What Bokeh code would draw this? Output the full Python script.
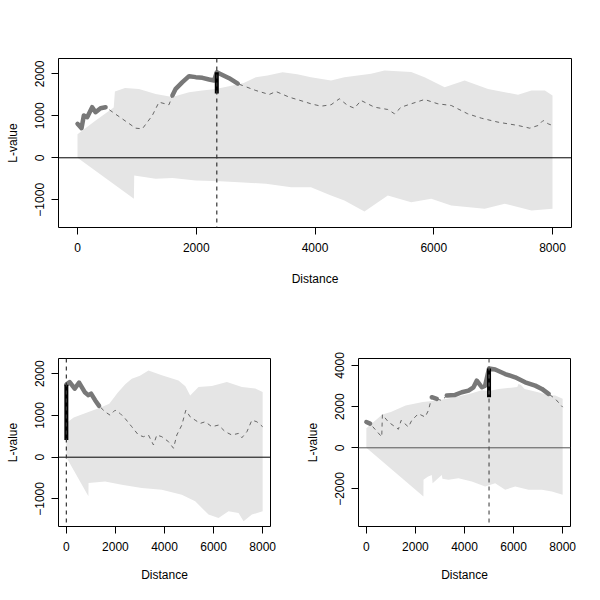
import numpy as np
from bokeh.plotting import figure
from bokeh.layouts import column, row
from bokeh.models import Range1d, FixedTicker, Span
from bokeh.embed import file_html
from bokeh.resources import INLINE

# ---------------- data ----------------
x_ticks = [0, 2000, 4000, 6000, 8000]
x_tick_labels = ["0", "2000", "4000", "6000", "8000"]
y_ticks_a = [-1000, 0, 1000, 2000]
y_tick_labels_a = ["\u22121000", "0", "1000", "2000"]
y_ticks_b = [-2000, 0, 2000, 4000]
y_tick_labels_b = ["\u22122000", "0", "2000", "4000"]

# top panel
top_up_x = [0, 300, 610, 630, 800, 1035, 1316, 1598, 1879, 2100, 2330, 2611, 2800, 3004, 3200,
            3454, 3700, 3932, 4270, 4495, 4945, 5170, 5620, 5845, 6183, 6520, 6914, 7420, 7646,
            7871, 8000]
top_up_y = [560, 880, 1200, 1580, 1660, 1640, 1520, 1445, 1562, 1600, 1640, 1720, 1780, 1920,
            1960, 2038, 1990, 1920, 1840, 1920, 2000, 2079, 2040, 1920, 1681, 1840, 1640, 1500,
            1602, 1600, 1483]
top_lo_x = [0, 950, 955, 1316, 1600, 1992, 2400, 2723, 3175, 3600, 3932, 4270, 4495, 4833,
            5226, 5620, 5958, 6295, 6858, 7196, 7646, 8000]
top_lo_y = [0, -976, -421, -500, -480, -540, -560, -580, -620, -700, -700, -897, -1016, -1280,
            -897, -1056, -976, -1135, -1214, -1095, -1254, -1214]
top_obs_x = [0, 68, 107, 163, 247, 304, 388, 473, 979, 1092, 1260, 1372, 1541, 1598, 1654, 1767,
             1879, 1992, 2104, 2217, 2301, 2346, 2554, 2700, 2779, 3004, 3229, 3342, 3567, 3848,
             3932, 4101, 4270, 4410, 4551, 4664, 4776, 5001, 5226, 5339, 5451, 5620, 5845, 6070,
             6295, 6571, 6802, 7083, 7420, 7617, 7758, 7842, 7927, 8000]
top_obs_y = [809, 705, 1007, 967, 1205, 1086, 1180, 1205, 705, 690, 1007, 1324, 1262, 1483, 1642,
             1800, 1943, 1920, 1904, 1864, 1840, 2038, 1896, 1765, 1721, 1602, 1507, 1578, 1443,
             1324, 1285, 1229, 1262, 1405, 1245, 1181, 1364, 1205, 1150, 1048, 1205, 1285, 1388,
             1285, 1245, 1048, 943, 848, 769, 705, 769, 888, 809, 769]
top_peak_x = 2346
top_bar = [1530, 2038]

# bottom-left panel
bl_up_x = [0, 300, 900, 1400, 1750, 2100, 2400, 2666, 3000, 3346, 3890, 4570, 4850, 5046,
           5386, 5930, 6542, 7154, 7698, 8000]
bl_up_y = [820, 950, 1080, 1190, 1280, 1550, 1750, 1880, 1950, 2079, 1960, 1840, 1700, 1480,
           1682, 1706, 1800, 1682, 1643, 1560]
bl_lo_x = [0, 899, 905, 1579, 2258, 3074, 3890, 4706, 5250, 5794, 6202, 6610, 7018, 7222,
           7562, 8000]
bl_lo_y = [0, -938, -619, -580, -660, -740, -780, -900, -1056, -1375, -1455, -1296, -1335,
           -1535, -1375, -1296]
bl_obs_x = [0, 136, 340, 519, 763, 899, 1008, 1171, 1334, 1579, 1783, 1987, 2190, 2394, 2666,
            2938, 3142, 3346, 3550, 3686, 3890, 4162, 4366, 4502, 4706, 4869, 5046, 5250, 5454,
            5658, 5930, 6202, 6474, 6746, 7018, 7154, 7358, 7562, 7766, 8000]
bl_obs_y = [1738, 1800, 1643, 1786, 1548, 1485, 1524, 1365, 1230, 1087, 1007, 1126, 1047, 927,
            730, 531, 491, 531, 293, 531, 491, 372, 214, 531, 769, 1126, 967, 888, 809, 848, 730,
            769, 610, 531, 570, 467, 610, 888, 848, 730]
bl_peak_x = 0
bl_bar = [412, 1738]

# bottom-right panel
br_up_x = [0, 200, 650, 1000, 1600, 2300, 2900, 3600, 4300, 4700, 5000, 5400, 5900, 6150,
           6200, 6300, 6450, 7000, 7400, 7700, 8000]
br_up_y = [950, 1150, 1620, 1740, 2050, 2220, 2300, 2450, 2650, 2800, 2760, 2850, 2920, 2950,
           3100, 3050, 2860, 2700, 2560, 2540, 2380]
br_lo_x = [0, 2326, 2330, 2500, 2666, 2700, 3074, 3100, 3346, 3754, 4298, 4842, 5250, 5658,
           6066, 6610, 7154, 7562, 8000]
br_lo_y = [0, -2361, -1557, -1400, -1316, -1717, -1316, -1500, -1557, -1477, -1637, -1878,
           -1717, -2038, -1878, -2038, -2038, -2119, -2280]
br_obs_x = [0, 151, 627, 654, 899, 1307, 1416, 1715, 1851, 2122, 2394, 2530, 2666, 2870, 3074,
            3278, 3618, 3890, 4162, 4366, 4502, 4706, 4842, 5000, 5250, 5658, 6066, 6474, 6882,
            7154, 7426, 7698, 8000]
br_obs_y = [1253, 1173, 530, 1609, 1253, 901, 1334, 1012, 1334, 1657, 1494, 1817, 2458, 2378,
            2297, 2538, 2570, 2699, 2779, 2940, 3262, 2940, 3020, 3850, 3800, 3583, 3423, 3182,
            3020, 2860, 2619, 2378, 1976]
br_peak_x = 5000
br_bar = [2460, 3850]

FONT = "Liberation Sans"
BAND = "#E5E5E5"
THICK = "#787878"
DASHC = "#666666"


def panel(width, height, left, right, top_b, ylim, yticks, ylabels, up_x, up_y, lo_x, lo_y,
          obs_x, obs_y, peak_x, bar, zero_color, vline_color, xlab_standoff):
    p = figure(width=width, height=height, output_backend="svg", toolbar_location=None,
               x_range=Range1d(-320, 8320), y_range=Range1d(*ylim),
               min_border_left=left, min_border_right=right,
               min_border_top=top_b, min_border_bottom=height - top_b - 169)
    p.grid.visible = False
    p.outline_line_color = "black"
    p.outline_line_width = 1
    p.background_fill_color = "white"
    p.border_fill_color = "white"

    # envelope band
    px = list(up_x) + list(lo_x)[::-1]
    py = list(up_y) + list(lo_y)[::-1]
    p.patch(px, py, fill_color=BAND, line_color=None)

    # observed line (dashed)
    p.line(obs_x, obs_y, line_color=DASHC, line_width=1, line_dash="4 4")

    # significant parts (thick) where observed exceeds envelope
    ox = np.array(obs_x, dtype=float)
    oy = np.array(obs_y, dtype=float)
    upper_at = np.interp(ox, up_x, up_y)
    sig = oy > upper_at
    xs, ys = [], []
    i = 0
    n = len(ox)
    while i < n:
        if sig[i]:
            j = i
            while j + 1 < n and sig[j + 1]:
                j += 1
            if j > i:
                xs.append(list(ox[i:j + 1]))
                ys.append(list(oy[i:j + 1]))
            i = j + 1
        else:
            i += 1
    if xs:
        p.multi_line(xs, ys, line_color=THICK, line_width=4.5, line_join="round",
                     line_cap="round")

    p.add_layout(Span(location=0, dimension="width", line_color=zero_color, line_width=1))
    p.add_layout(Span(location=peak_x, dimension="height", line_color=vline_color,
                      line_width=1.2, line_dash="4 4"))
    p.segment(x0=[peak_x], y0=[bar[0]], x1=[peak_x], y1=[bar[1]], line_color="black",
              line_width=4)

    for ax in (p.xaxis[0], p.yaxis[0]):
        ax.axis_line_color = None
        ax.major_tick_line_color = "black"
        ax.major_tick_out = 7
        ax.major_tick_in = 0
        ax.minor_tick_line_color = None
        ax.major_label_text_font = FONT
        ax.major_label_text_font_size = "12px"
        ax.major_label_text_color = "black"
        ax.axis_label_text_font = FONT
        ax.axis_label_text_font_size = "12px"
        ax.axis_label_text_font_style = "normal"
        ax.axis_label_text_color = "black"

    p.xaxis.ticker = FixedTicker(ticks=x_ticks)
    p.xaxis.major_label_overrides = dict(zip(x_ticks, x_tick_labels))
    p.xaxis.axis_label = "Distance"
    p.xaxis.major_label_standoff = 8
    p.xaxis.axis_label_standoff = xlab_standoff

    p.yaxis.ticker = FixedTicker(ticks=yticks)
    p.yaxis.major_label_overrides = dict(zip(yticks, ylabels))
    p.yaxis.major_label_orientation = "vertical"
    p.yaxis.axis_label = "L-value"
    p.yaxis.major_label_standoff = 7
    p.yaxis.axis_label_standoff = 13
    return p


top = panel(584, 300, 58, 13, 58, (-1660, 2364), y_ticks_a, y_tick_labels_a,
            top_up_x, top_up_y, top_lo_x, top_lo_y, top_obs_x, top_obs_y,
            top_peak_x, top_bar, "black", "#333333", 17)
bl = panel(300, 284, 58, 30, 58, (-1660, 2364), y_ticks_a, y_tick_labels_a,
           bl_up_x, bl_up_y, bl_lo_x, bl_lo_y, bl_obs_x, bl_obs_y,
           bl_peak_x, bl_bar, "black", "#333333", 14)
br = panel(284, 284, 58, 14, 58, (-3822, 4337), y_ticks_b, y_tick_labels_b,
           br_up_x, br_up_y, br_lo_x, br_lo_y, br_obs_x, br_obs_y,
           br_peak_x, br_bar, "#555555", "#555555", 14)

layout = column(top, row(bl, br, spacing=0), spacing=0)
open("out.html", "w").write(file_html(layout, INLINE))
